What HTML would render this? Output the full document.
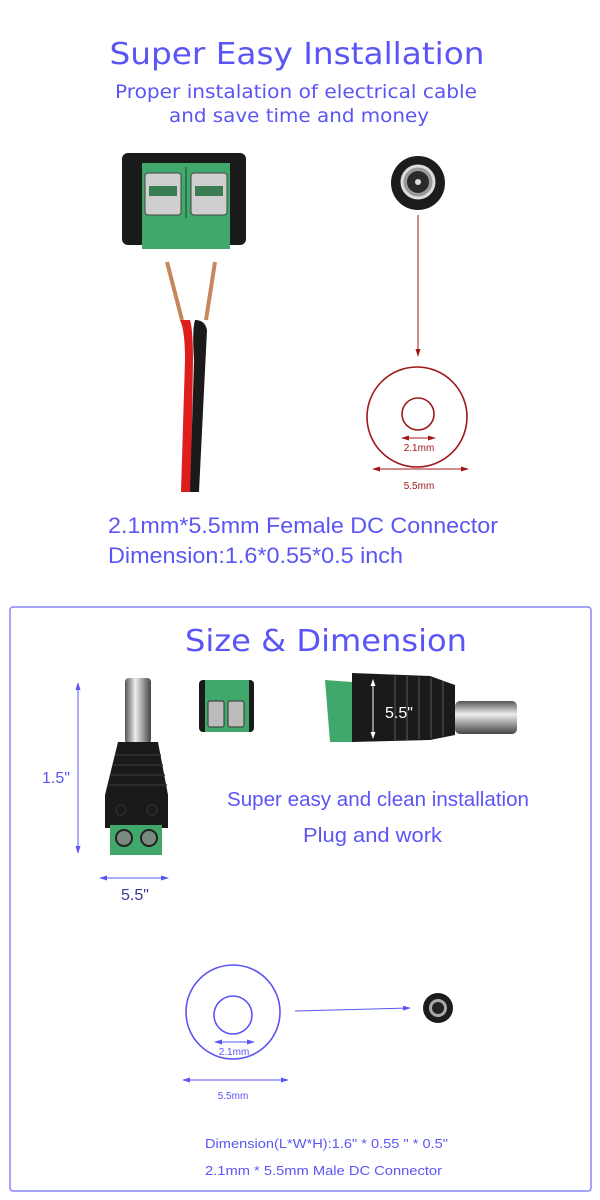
<!DOCTYPE html>
<html><head><meta charset="utf-8"><style>
html,body{margin:0;padding:0;background:#fff;}
svg{display:block;}
.b{fill:#5b55f5;}
</style></head><body>
<svg width="600" height="1200" viewBox="0 0 600 1200" xmlns="http://www.w3.org/2000/svg">
<defs>
<marker id="ar" markerWidth="8" markerHeight="8" refX="7" refY="4" orient="auto-start-reverse" markerUnits="userSpaceOnUse"><path d="M0,1.5 L8,4 L0,6.5 z" fill="#a01818"/></marker>
<marker id="ab" markerWidth="8" markerHeight="8" refX="7" refY="4" orient="auto-start-reverse" markerUnits="userSpaceOnUse"><path d="M0,1.5 L8,4 L0,6.5 z" fill="#5b55f5"/></marker>
<marker id="aw" markerWidth="7" markerHeight="7" refX="6" refY="3.5" orient="auto-start-reverse" markerUnits="userSpaceOnUse"><path d="M0,1 L7,3.5 L0,6 z" fill="#fff"/></marker>
<linearGradient id="pin" x1="0" x2="1" y1="0" y2="0"><stop offset="0" stop-color="#555"/><stop offset="0.4" stop-color="#eee"/><stop offset="1" stop-color="#444"/></linearGradient>
<linearGradient id="pinh" x1="0" x2="0" y1="0" y2="1"><stop offset="0" stop-color="#555"/><stop offset="0.4" stop-color="#eee"/><stop offset="1" stop-color="#444"/></linearGradient>
</defs>

<text x="297" y="64" text-anchor="middle" font-family="DejaVu Sans, sans-serif" font-size="30" class="b" textLength="375" lengthAdjust="spacingAndGlyphs">Super Easy Installation</text>
<text x="296" y="98" text-anchor="middle" font-family="DejaVu Sans, sans-serif" font-size="19" class="b" textLength="362" lengthAdjust="spacingAndGlyphs">Proper instalation of electrical cable</text>
<text x="299" y="122" text-anchor="middle" font-family="DejaVu Sans, sans-serif" font-size="19" class="b" textLength="260" lengthAdjust="spacingAndGlyphs">and save time and money</text>

<rect x="122" y="153" width="124" height="92" rx="6" fill="#1a1a1a"/>
<rect x="142" y="163" width="88" height="86" fill="#3fa86a"/>
<rect x="145" y="173" width="36" height="42" rx="3" fill="#cfcfcf" stroke="#444"/>
<rect x="191" y="173" width="36" height="42" rx="3" fill="#cfcfcf" stroke="#444"/>
<rect x="149" y="186" width="28" height="10" fill="#3a7d52"/>
<rect x="195" y="186" width="28" height="10" fill="#3a7d52"/>
<line x1="186" y1="167" x2="186" y2="218" stroke="#2c7a4a" stroke-width="2"/>
<path d="M167,262 L182,320" stroke="#c7875e" stroke-width="4"/>
<path d="M215,262 L206,320" stroke="#c7875e" stroke-width="4"/>
<path d="M180,320 Q185,330 185,360 L181,492 L191,492 L193,360 Q193,330 190,320 Z" fill="#e01d1d"/>
<path d="M195,320 Q205,320 207,330 L199,492 L190,492 L194,360 Q192,330 195,320 Z" fill="#1a1a1a"/>

<circle cx="418" cy="183" r="27" fill="#1c1c1c"/>
<circle cx="418" cy="182" r="16" fill="#999" stroke="#ddd" stroke-width="3"/>
<circle cx="418" cy="182" r="11" fill="#2a2a2a"/>
<circle cx="418" cy="182" r="3" fill="#ddd"/>
<line x1="418" y1="215" x2="418" y2="356" stroke="#a01818" stroke-width="1" marker-end="url(#ar)"/>
<circle cx="417" cy="417" r="50" fill="none" stroke="#a01818" stroke-width="1.6"/>
<circle cx="418" cy="414" r="16" fill="none" stroke="#a01818" stroke-width="1.6"/>
<line x1="402" y1="438" x2="435" y2="438" stroke="#a01818" stroke-width="1" marker-start="url(#ar)" marker-end="url(#ar)"/>
<text x="419" y="451" text-anchor="middle" font-family="Liberation Sans, sans-serif" font-size="10" fill="#a01818">2.1mm</text>
<line x1="373" y1="469" x2="468" y2="469" stroke="#a01818" stroke-width="1" marker-start="url(#ar)" marker-end="url(#ar)"/>
<text x="419" y="489" text-anchor="middle" font-family="Liberation Sans, sans-serif" font-size="10" fill="#a01818">5.5mm</text>

<text x="108" y="533" font-family="Liberation Sans, sans-serif" font-size="22" class="b" textLength="390" lengthAdjust="spacingAndGlyphs">2.1mm*5.5mm Female DC Connector</text>
<text x="108" y="563" font-family="Liberation Sans, sans-serif" font-size="22" class="b" textLength="295" lengthAdjust="spacingAndGlyphs">Dimension:1.6*0.55*0.5 inch</text>

<rect x="10" y="607" width="581" height="584" rx="3" fill="none" stroke="#8a84fa" stroke-width="1.5"/>
<text x="326" y="651" text-anchor="middle" font-family="DejaVu Sans, sans-serif" font-size="30" class="b" textLength="282" lengthAdjust="spacingAndGlyphs">Size &amp; Dimension</text>

<rect x="125" y="678" width="26" height="66" rx="4" fill="url(#pin)"/>
<path d="M118,742 L158,742 L168,795 L168,828 L105,828 L105,795 Z" fill="#1a1a1a"/>
<g stroke="#333" stroke-width="1.5">
<line x1="115" y1="755" x2="161" y2="755"/><line x1="113" y1="765" x2="163" y2="765"/><line x1="111" y1="775" x2="165" y2="775"/><line x1="109" y1="785" x2="167" y2="785"/>
</g>
<circle cx="121" cy="810" r="5" fill="none" stroke="#333"/><circle cx="152" cy="810" r="5" fill="none" stroke="#333"/>
<rect x="110" y="825" width="52" height="30" fill="#3fa86a"/>
<circle cx="124" cy="838" r="8" fill="#7a8a80" stroke="#222" stroke-width="2"/>
<circle cx="149" cy="838" r="8" fill="#7a8a80" stroke="#222" stroke-width="2"/>
<line x1="78" y1="683" x2="78" y2="853" stroke="#5b55f5" stroke-width="1" marker-start="url(#ab)" marker-end="url(#ab)"/>
<text x="42" y="783" font-family="Liberation Sans, sans-serif" font-size="16" class="b">1.5"</text>
<line x1="100" y1="878" x2="168" y2="878" stroke="#5b55f5" stroke-width="1" marker-start="url(#ab)" marker-end="url(#ab)"/>
<text x="121" y="900" font-family="Liberation Sans, sans-serif" font-size="16" fill="#3a3a99">5.5"</text>

<rect x="199" y="680" width="55" height="52" rx="4" fill="#1a1a1a"/>
<rect x="205" y="680" width="44" height="52" fill="#3fa86a"/>
<rect x="208" y="701" width="16" height="26" rx="2" fill="#bbb" stroke="#333"/>
<rect x="228" y="701" width="16" height="26" rx="2" fill="#bbb" stroke="#333"/>

<path d="M325,680 L352,682 L352,742 L330,742 Z" fill="#3fa86a"/>
<path d="M352,673 L430,676 L455,685 L455,735 L430,740 L352,742 Z" fill="#1a1a1a"/>
<g stroke="#3a3a3a" stroke-width="2">
<line x1="395" y1="676" x2="395" y2="740"/><line x1="407" y1="676" x2="407" y2="740"/><line x1="419" y1="677" x2="419" y2="739"/><line x1="431" y1="678" x2="431" y2="738"/><line x1="443" y1="681" x2="443" y2="736"/>
</g>
<rect x="455" y="701" width="62" height="33" rx="5" fill="url(#pinh)"/>
<line x1="373" y1="680" x2="373" y2="738" stroke="#fff" stroke-width="1" marker-start="url(#aw)" marker-end="url(#aw)"/>
<text x="385" y="718" font-family="Liberation Sans, sans-serif" font-size="16" fill="#fff">5.5"</text>

<text x="227" y="806" font-family="Liberation Sans, sans-serif" font-size="20" class="b" textLength="302" lengthAdjust="spacingAndGlyphs">Super easy and clean installation</text>
<text x="303" y="842" font-family="Liberation Sans, sans-serif" font-size="20" class="b" textLength="139" lengthAdjust="spacingAndGlyphs">Plug and work</text>

<circle cx="233" cy="1012" r="47" fill="none" stroke="#5b55f5" stroke-width="1.6"/>
<circle cx="233" cy="1015" r="19" fill="none" stroke="#5b55f5" stroke-width="1.6"/>
<line x1="215" y1="1042" x2="254" y2="1042" stroke="#5b55f5" stroke-width="1" marker-start="url(#ab)" marker-end="url(#ab)"/>
<text x="234" y="1055" text-anchor="middle" font-family="Liberation Sans, sans-serif" font-size="10" class="b">2.1mm</text>
<line x1="183" y1="1080" x2="288" y2="1080" stroke="#5b55f5" stroke-width="1" marker-start="url(#ab)" marker-end="url(#ab)"/>
<text x="233" y="1099" text-anchor="middle" font-family="Liberation Sans, sans-serif" font-size="10" class="b">5.5mm</text>
<line x1="295" y1="1011" x2="410" y2="1008" stroke="#5b55f5" stroke-width="1" marker-end="url(#ab)"/>
<circle cx="438" cy="1008" r="15" fill="#1c1c1c"/>
<circle cx="438" cy="1008" r="9" fill="#aaa"/>
<circle cx="438" cy="1008" r="6" fill="#222"/>

<text x="205" y="1148" font-family="Liberation Sans, sans-serif" font-size="13" class="b" textLength="243" lengthAdjust="spacingAndGlyphs">Dimension(L*W*H):1.6" * 0.55 " * 0.5"</text>
<text x="205" y="1175" font-family="Liberation Sans, sans-serif" font-size="13" class="b" textLength="237" lengthAdjust="spacingAndGlyphs">2.1mm * 5.5mm Male DC Connector</text>
</svg>
</body></html>
